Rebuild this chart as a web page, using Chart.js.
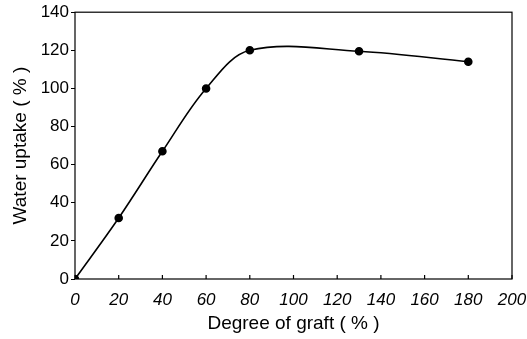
<!DOCTYPE html>
<html>
<head>
<meta charset="utf-8">
<script src="https://cdn.jsdelivr.net/npm/chart.js@4/dist/chart.umd.min.js"></script>
<style>
  html, body { margin: 0; padding: 0; background: #fff; }
  #wrap { width: 527px; height: 339px; }
</style>
</head>
<body>
<div id="wrap"><canvas id="uptakeChart"></canvas></div>
<script>
// Water uptake vs degree of graft
const graftDegree = [0, 20, 40, 60, 80, 130, 180];
const waterUptake = [0, 32, 67, 100, 120, 119.5, 114];
const xTicks = [0, 20, 40, 60, 80, 100, 120, 140, 160, 180, 200];
const yTicks = [0, 20, 40, 60, 80, 100, 120, 140];

const fontFamily = '"Liberation Sans", Arial, Helvetica, sans-serif';

// box round the plot and small inward ticks on the x axis
const frame = {
    id: 'frame',
    afterDraw(chart) {
        const { ctx, chartArea: a, scales } = chart;
        ctx.save();
        ctx.strokeStyle = '#000';
        ctx.lineWidth = 1.2;
        ctx.strokeRect(a.left, a.top, a.right - a.left, a.bottom - a.top);
        ctx.beginPath();
        xTicks.forEach(v => {
            const px = scales.x.getPixelForValue(v);
            ctx.moveTo(px, a.bottom);
            ctx.lineTo(px, a.bottom - 4);
        });
        ctx.stroke();
        ctx.restore();
    }
};

new Chart(document.getElementById('uptakeChart').getContext('2d'), {
    type: 'line',
    data: {
        datasets: [{
            data: graftDegree.map((x, i) => ({ x: x, y: waterUptake[i] })),
            borderColor: '#000',
            borderWidth: 1.6,
            tension: 0.35,
            pointRadius: 3.5,
            pointBackgroundColor: '#000',
            pointBorderColor: '#000',
            fill: false
        }]
    },
    options: {
        responsive: true,
        maintainAspectRatio: false,
        animation: false,
        layout: { padding: { top: 10, right: 15, left: 0, bottom: 0 } },
        plugins: {
            legend: { display: false },
            tooltip: { enabled: false }
        },
        scales: {
            x: {
                type: 'linear',
                min: 0,
                max: 200,
                afterBuildTicks: s => { s.ticks = xTicks.map(v => ({ value: v })); },
                afterFit: s => { s.height = 60; s.paddingRight = 0; s.paddingLeft = 0; },
                grid: { display: false },
                border: { display: false },
                ticks: {
                    color: '#000',
                    padding: 3,
                    maxRotation: 0,
                    font: { family: fontFamily, size: 17, style: 'italic' }
                },
                title: {
                    display: true,
                    text: 'Degree of graft ( % )',
                    color: '#000',
                    padding: { top: 2 },
                    font: { family: fontFamily, size: 19 }
                }
            },
            y: {
                min: 0,
                max: 140,
                afterBuildTicks: s => { s.ticks = yTicks.map(v => ({ value: v })); },
                afterFit: s => { s.width = 75; },
                grid: {
                    drawOnChartArea: false,
                    drawTicks: true,
                    tickLength: 4,
                    color: '#000'
                },
                border: { display: false },
                ticks: {
                    color: '#000',
                    padding: 2,
                    font: { family: fontFamily, size: 17 }
                },
                title: {
                    display: true,
                    text: 'Water uptake ( % )',
                    color: '#000',
                    padding: { top: 9, bottom: 4 },
                    font: { family: fontFamily, size: 19 }
                }
            }
        }
    },
    plugins: [frame]
});
</script>
</body>
</html>
